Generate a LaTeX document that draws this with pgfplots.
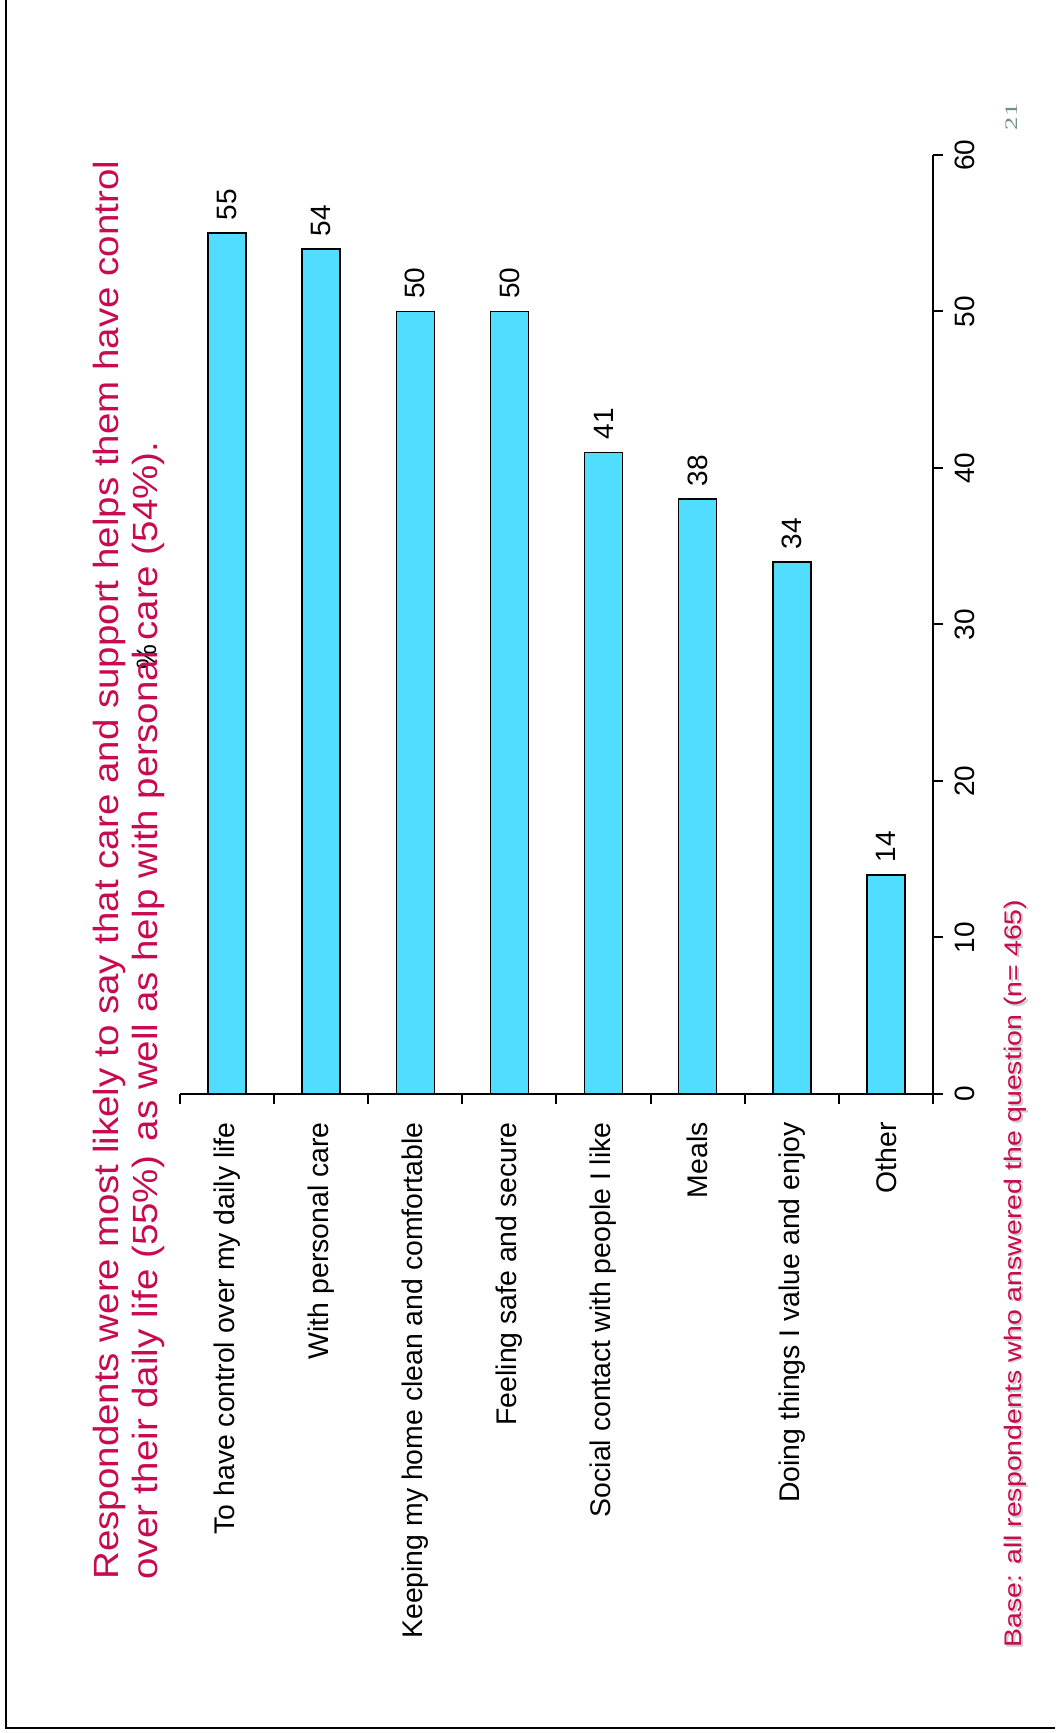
\documentclass[border=0pt]{standalone}
\usepackage{fontspec}
\setmainfont{Liberation Sans}
\newfontfamily\titlefont[FakeStretch=1.1]{Liberation Sans}
\newfontfamily\basefont[FakeStretch=1.19]{Liberation Sans}
\newfontfamily\pagefont[FakeStretch=1.5]{Liberation Serif}
\usepackage{pgfplots}
\pgfplotsset{compat=1.18}
\definecolor{titlecol}{RGB}{200,10,82}
\definecolor{barcol}{RGB}{80,221,255}
\definecolor{pagecol}{RGB}{115,140,140}
\begin{document}
\begin{tikzpicture}
\useasboundingbox (0,0) rectangle (527.5pt,866.5pt);
\draw[line width=1.3pt] (3pt,866.5pt) -- (3pt,2.5pt) -- (527.5pt,2.5pt);
\begin{axis}[
  at={(90pt,319.5pt)}, anchor=south west,
  scale only axis, width=376.5pt, height=469.5pt,
  xmin=-0.5, xmax=7.5, ymin=0, ymax=60,
  axis x line*=bottom, axis y line*=right,
  axis line style={line width=1pt,-},
  xtick align=outside, ytick align=outside,
  major tick length=5pt,
  tick style={line width=1pt, black},
  ybar, bar width=19pt, bar shift=0pt,
  xtick={-0.5,0.5,...,7.5}, xticklabels={},
  extra x ticks={0,1,2,3,4,5,6,7},
  extra x tick labels={To have control over my daily life,With personal care,Keeping my home clean and comfortable,Feeling safe and secure,Social contact with people I like,Meals,Doing things I value and enjoy,Other},
  extra x tick style={major tick length=0pt, xticklabel style={rotate=90, anchor=east, inner sep=0pt, font=\fontsize{14.2}{15}\selectfont}},
  xticklabel shift=14pt,
  ytick={0,10,...,60},
  /pgf/number format/assume math mode=true,
  yticklabel style={rotate=90, anchor=north, inner sep=0pt, font=\fontsize{14}{15}\selectfont},
  yticklabel shift=6pt,
  ylabel={\%},
  every axis y label/.style={at={(axis description cs:-0.0444,0.4658)}, rotate=90, anchor=center, font=\fontsize{14}{15}\selectfont},
  nodes near coords,
  every node near coord/.append style={rotate=90, anchor=west, inner xsep=6pt, inner ysep=0pt, font=\fontsize{14}{15}\selectfont, text=black},
]
\addplot[fill=barcol, draw=black, line width=0.8pt] coordinates {(0,55) (1,54) (2,50) (3,50) (4,41) (5,38) (6,34) (7,14)};
\end{axis}
\node[rotate=90, anchor=base west, inner sep=0pt, text=titlecol, font=\titlefont\fontsize{17.5}{19.5}\selectfont] at (59pt,76.5pt) {Respondents were most likely to say that care and support helps them have control};
\node[rotate=90, anchor=base west, inner sep=0pt, text=titlecol, font=\titlefont\fontsize{17.5}{19.5}\selectfont] at (78.5pt,76.5pt) {over their daily life (55\%)\hspace{0.42em}as well as help with personal care (54\%).};
\node[rotate=90, anchor=base west, inner sep=0pt, text=black!20, font=\basefont\fontsize{12}{14}\selectfont] at (511.7pt,41.7pt) {Base: all respondents who answered the question (n= 465)};
\node[rotate=90, anchor=base west, inner sep=0pt, text=titlecol, font=\basefont\fontsize{12}{14}\selectfont] at (510.5pt,42.5pt) {Base: all respondents who answered the question (n= 465)};
\node[rotate=90, anchor=base, inner sep=0pt, text=pagecol, font=\pagefont\fontsize{8.8}{10}\selectfont] at (508.5pt,808pt) {21};
\end{tikzpicture}
\end{document}
